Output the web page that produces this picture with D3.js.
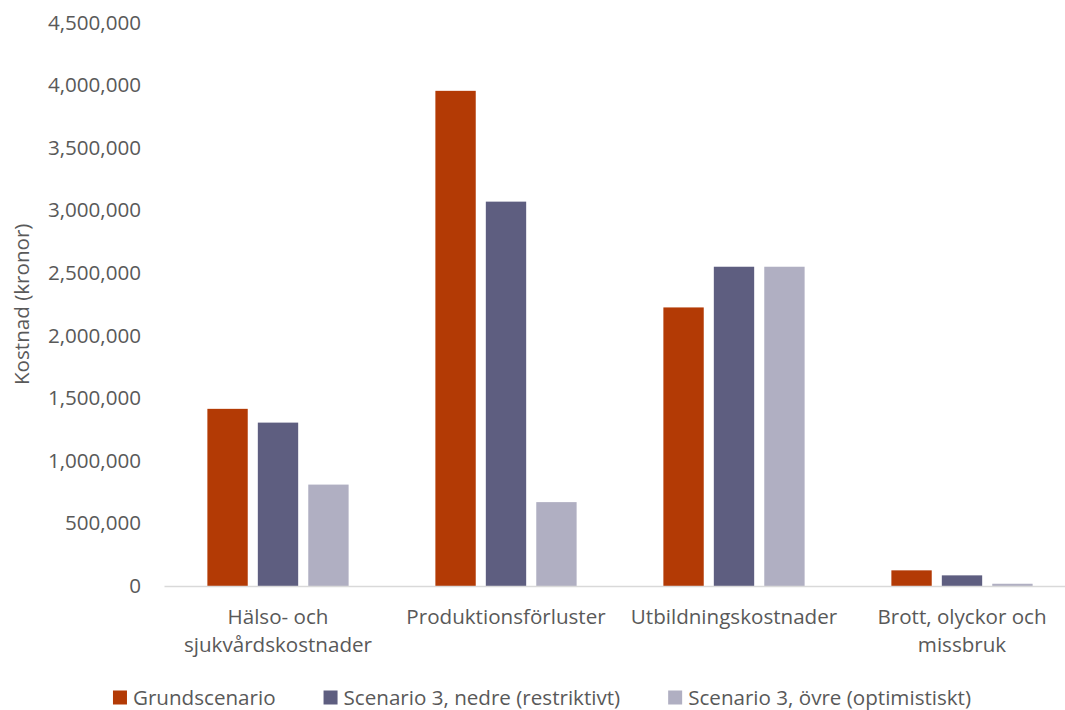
<!DOCTYPE html>
<html>
<head>
<meta charset="utf-8">
<script src="https://cdn.jsdelivr.net/npm/d3@7"></script>
<style>
  html, body { margin: 0; padding: 0; background: #fff; }
  svg { display: block; font-family: "Open Sans", "Noto Sans", sans-serif; }
</style>
</head>
<body>
<svg id="chart" width="1065" height="710"></svg>
<script>
const categories = ["Hälso- och sjukvårdskostnader", "Produktionsförluster", "Utbildningskostnader", "Brott, olyckor och missbruk"];
const seriesNames = ["Grundscenario", "Scenario 3, nedre (restriktivt)", "Scenario 3, övre (optimistiskt)"];
const grundscenario = [1415000, 3955000, 2225000, 125000];
const scenarioNedre = [1305000, 3070000, 2550000, 85000];
const scenarioOvre = [810000, 670000, 2550000, 18000];
const seriesColors = ["#B33A05", "#5E5E80", "#B0AFC2"];
const yTicks = [0, 500000, 1000000, 1500000, 2000000, 2500000, 3000000, 3500000, 4000000, 4500000];
const yTitle = "Kostnad (kronor)";

const seriesValues = [grundscenario, scenarioNedre, scenarioOvre];
const svg = d3.select("#chart");
const W = 1065, H = 710;
const FS = "20.6px";
const margin = { left: 164, right: -11, top: 22.6, bottom: 124 };
const x0 = d3.scaleBand().domain(categories).range([margin.left, W - margin.right]).paddingInner(0).paddingOuter(0);
const y = d3.scaleLinear().domain([0, 4500000]).range([586, 22.6]);
const x1 = d3.scaleBand().domain(d3.range(seriesNames.length)).range([0, x0.bandwidth()]).paddingInner(0.2).paddingOuter(0.86);

const textColor = "#595959";
const fmt = d3.format(",");

// Y axis tick labels
const yAxis = d3.axisLeft(y).tickValues(yTicks).tickFormat(fmt).tickSize(0).tickPadding(0);
const gy = svg.append("g").attr("transform", "translate(141,0)").call(yAxis);
gy.select(".domain").remove();
gy.selectAll("text").attr("fill", textColor).style("font-size", FS).style("font-family", "'Open Sans', sans-serif");

// Bars
const groups = svg.append("g").selectAll("g").data(categories).join("g")
  .attr("transform", d => `translate(${x0(d)},0)`);
groups.selectAll("rect").data((c, ci) => seriesValues.map((s, si) => ({ si, v: s[ci] })))
  .join("rect")
  .attr("x", d => x1(d.si))
  .attr("width", x1.bandwidth())
  .attr("y", d => y(d.v))
  .attr("height", d => y(0) - y(d.v))
  .attr("fill", d => seriesColors[d.si]);

// X axis line
const xAxis = d3.axisBottom(x0).tickSize(0).tickFormat("");
const gx = svg.append("g").attr("transform", `translate(0,${y(0)})`).call(xAxis);
gx.select(".domain").attr("stroke", "#D9D9D9").attr("stroke-width", 1.5);

// Category labels (wrapped)
const labelG = svg.append("g").style("font-size", FS).attr("fill", textColor).attr("text-anchor", "middle");
categories.forEach(c => {
  const t = labelG.append("text").attr("x", x0(c) + x0.bandwidth() / 2).attr("y", 624);
  const words = c.split(" ");
  let line = [], lines = [];
  const probe = t.append("tspan");
  words.forEach(w => {
    line.push(w);
    probe.text(line.join(" "));
    if (probe.node().getComputedTextLength() > 222 && line.length > 1) {
      line.pop();
      lines.push(line.join(" "));
      line = [w];
    }
  });
  lines.push(line.join(" "));
  probe.remove();
  lines.forEach((l, i) => {
    t.append("tspan").attr("x", x0(c) + x0.bandwidth() / 2).attr("y", 624 + i * 28).text(l);
  });
});

// Y axis title
svg.append("text")
  .attr("transform", `translate(29,${(y(0) + y(4500000)) / 2}) rotate(-90)`)
  .attr("text-anchor", "middle")
  .attr("fill", textColor)
  .style("font-size", FS)
  .text(yTitle);

// Legend
const legend = svg.append("g").style("font-size", FS);
let lx = 0;
seriesNames.forEach((n, i) => {
  const g = legend.append("g").attr("transform", `translate(${lx},0)`);
  g.append("rect").attr("x", 0).attr("y", -14.5).attr("width", 14).attr("height", 14).attr("fill", seriesColors[i]);
  const t = g.append("text").attr("x", 20).attr("y", 0).attr("fill", textColor).text(n);
  const w = 20 + t.node().getComputedTextLength();
  lx += w + 48;
});
const totalW = lx - 48;
legend.attr("transform", `translate(${542 - totalW / 2},705)`);
</script>
</body>
</html>
